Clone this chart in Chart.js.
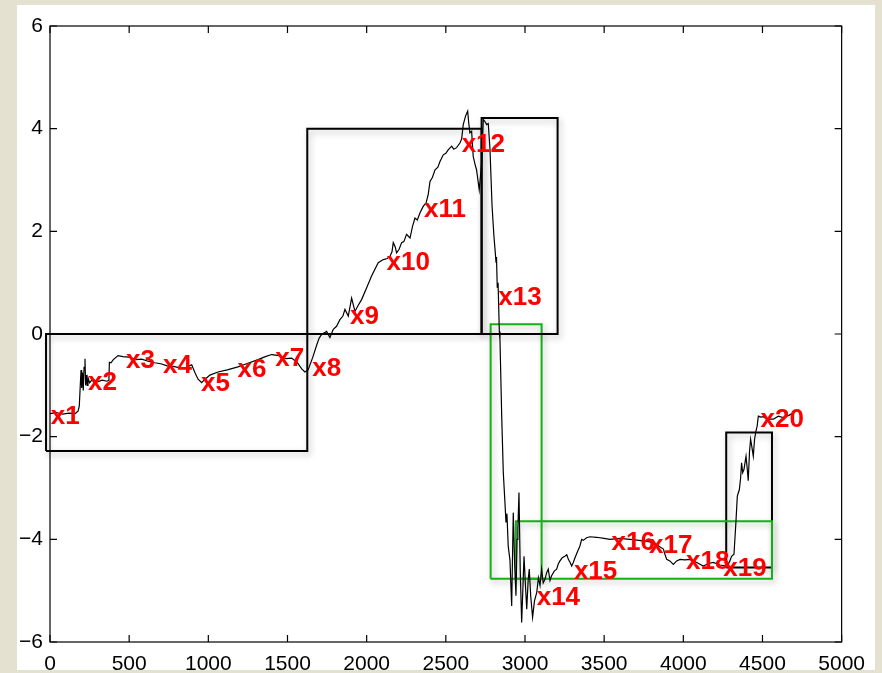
<!DOCTYPE html>
<html>
<head>
<meta charset="utf-8">
<script src="https://cdn.jsdelivr.net/npm/chart.js@4/dist/chart.umd.min.js"></script>
<style>
  html, body { margin: 0; padding: 0; background: #e4e1d1; }
  .panel { position: absolute; left: 17px; top: 5px; width: 858px; height: 665px; background: #fff; overflow: hidden; }
</style>
</head>
<body>
<div class="panel"><canvas id="plot"></canvas></div>
<script>
// traced signal
const seriesX = [
  0, 40, 80, 120, 160, 178, 185, 192, 196, 200, 205, 210, 215, 221, 225, 230, 235, 240, 250, 270,
  300, 330, 360, 372, 375, 385, 400, 430, 460, 500, 540, 580, 620, 660, 700, 740, 780, 820, 853, 880,
  895, 915, 935, 958, 980, 1010, 1061, 1120, 1187, 1250, 1314, 1360, 1400, 1450, 1490, 1526, 1560, 1590, 1610, 1630,
  1660, 1684, 1700, 1716, 1747, 1768, 1789, 1810, 1831, 1850, 1863, 1884, 1905, 1926, 1945, 1968, 2000, 2031, 2073, 2105,
  2130, 2147, 2160, 2168, 2180, 2189, 2205, 2221, 2235, 2252, 2274, 2290, 2305, 2320, 2337, 2358, 2375, 2389, 2400, 2415,
  2432, 2450, 2463, 2484, 2500, 2516, 2537, 2550, 2568, 2589, 2600, 2610, 2625, 2638, 2645, 2652, 2663, 2673, 2685, 2694,
  2711, 2718, 2726, 2732, 2737, 2747, 2758, 2768, 2779, 2792, 2804, 2812, 2817, 2820, 2825, 2830, 2838, 2842, 2853, 2863,
  2872, 2880, 2886, 2894, 2905, 2916, 2926, 2935, 2943, 2950, 2955, 2962, 2970, 2979, 2994, 3003, 3011, 3020, 3027, 3036,
  3048, 3060, 3074, 3085, 3095, 3105, 3115, 3126, 3137, 3147, 3158, 3168, 3185, 3200, 3210, 3221, 3235, 3252, 3264, 3274,
  3285, 3295, 3305, 3316, 3330, 3347, 3358, 3368, 3389, 3410, 3452, 3500, 3537, 3600, 3663, 3720, 3789, 3830, 3874, 3885,
  3895, 3915, 3937, 3958, 3979, 4010, 4042, 4085, 4126, 4160, 4189, 4230, 4274, 4290, 4305, 4320, 4332, 4341, 4354, 4362,
  4368, 4375, 4383, 4390, 4396, 4403, 4410, 4418, 4425, 4433, 4442, 4450, 4459, 4466, 4474, 4490, 4505, 4530, 4568, 4600,
  4631, 4670, 4700, 4716, 4730
];
const seriesY = [
  -1.55, -1.53, -1.56, -1.54, -1.55, -1.50, -1.40, -0.95, -0.70, -1.05, -0.75, -1.10, -0.65, -0.48, -1.00, -0.80, -1.00, -0.85, -0.95, -0.88,
  -0.93, -0.90, -0.92, -0.90, -0.55, -0.56, -0.50, -0.42, -0.44, -0.45, -0.50, -0.49, -0.53, -0.56, -0.58, -0.62, -0.63, -0.66, -0.67, -0.62,
  -0.60, -0.75, -0.88, -0.95, -0.88, -0.80, -0.74, -0.70, -0.64, -0.57, -0.50, -0.44, -0.40, -0.42, -0.48, -0.47, -0.55, -0.68, -0.74, -0.70,
  -0.45, -0.22, -0.08, -0.01, 0.05, -0.07, 0.09, 0.15, 0.28, 0.35, 0.48, 0.35, 0.70, 0.44, 0.55, 0.67, 0.90, 1.13, 1.39, 1.45,
  1.47, 1.51, 1.60, 1.78, 1.70, 1.58, 1.65, 1.78, 1.80, 1.94, 1.87, 2.10, 2.26, 2.22, 2.36, 2.49, 2.55, 2.72, 2.97, 3.05,
  3.20, 3.25, 3.36, 3.49, 3.52, 3.59, 3.66, 3.60, 3.63, 3.72, 3.80, 4.08, 4.25, 4.34, 4.10, 3.92, 3.95, 3.46, 3.30, 3.20,
  2.81, 3.05, 3.33, 3.80, 4.18, 4.14, 4.08, 4.10, 3.60, 2.50, 1.90, 1.60, 1.40, 1.50, 0.90, 1.00, 0.05, -0.11, -1.60, -2.70,
  -3.20, -3.67, -3.50, -4.13, -4.40, -5.30, -3.48, -4.50, -5.10, -4.00, -3.80, -3.09, -4.60, -5.62, -4.33, -4.90, -5.36, -4.80, -4.58, -5.10,
  -5.52, -5.20, -5.04, -4.75, -4.90, -4.58, -4.85, -4.78, -4.65, -4.58, -4.80, -4.71, -4.62, -4.58, -4.48, -4.42, -4.36, -4.33, -4.30, -4.39,
  -4.45, -4.52, -4.45, -4.36, -4.25, -4.13, -4.00, -4.02, -3.97, -3.95, -3.96, -3.98, -4.00, -3.98, -4.00, -4.02, -4.05, -4.10, -4.19, -4.30,
  -4.39, -4.42, -4.49, -4.42, -4.39, -4.40, -4.39, -4.45, -4.52, -4.47, -4.45, -4.50, -4.52, -4.45, -4.33, -4.29, -3.68, -3.16, -3.03, -2.80,
  -2.51, -2.70, -2.64, -2.50, -2.38, -2.60, -2.86, -2.30, -2.05, -2.20, -2.38, -2.05, -1.89, -1.80, -1.60, -1.62, -1.61, -1.66, -1.66, -1.60,
  -1.63, -1.58, -1.52, -1.50, -1.48
];

// segment boxes
const boxX0 = [-25, 1625, 2726, 2783, 2943, 4271];
const boxX1 = [1625, 2726, 3206, 3105, 4560, 4560];
const boxY0 = [-2.28, 0, 0, -4.77, -4.77, -4.55];
const boxY1 = [0, 4.0, 4.21, 0.19, -3.65, -1.92];
const boxColor = ['#000', '#000', '#000', '#14b014', '#14b014', '#000'];

// point labels
const labelText = ['x1', 'x2', 'x3', 'x4', 'x5', 'x6', 'x7', 'x8', 'x9', 'x10',
  'x11', 'x12', 'x13', 'x14', 'x15', 'x16', 'x17', 'x18', 'x19', 'x20'];
const labelX = [5, 240, 480, 714, 954, 1185, 1423, 1657, 1895, 2126,
  2362, 2600, 2831, 3074, 3309, 3547, 3783, 4017, 4252, 4488];
const labelY = [-1.57, -0.92, -0.48, -0.59, -0.94, -0.66, -0.44, -0.63, 0.38, 1.42,
  2.46, 3.73, 0.75, -5.10, -4.60, -4.02, -4.08, -4.39, -4.53, -1.63];

const xTicks = { min: 0, max: 5000, step: 500 };
const yTicks = { min: -6, max: 6, step: 2 };

const datasets = [{
  data: seriesX.map((x, i) => ({ x, y: seriesY[i] })),
  borderColor: '#000',
  borderWidth: 1.2,
  pointRadius: 0,
  tension: 0,
  order: 0
}];
boxX0.forEach((x0, i) => {
  const x1 = boxX1[i], y0 = boxY0[i], y1 = boxY1[i];
  datasets.push({
    data: [{ x: x0, y: y0 }, { x: x1, y: y0 }, { x: x1, y: y1 }, { x: x0, y: y1 }, { x: x0, y: y0 }],
    borderColor: boxColor[i],
    borderWidth: 2,
    pointRadius: 0,
    tension: 0,
    clip: false,
    order: 1
  });
});

const boxShadow = {
  id: 'boxShadow',
  beforeDatasetDraw(chart, args) {
    if (args.index === 0) return;
    const ctx = chart.ctx;
    ctx.save();
    ctx.shadowColor = 'rgba(0,0,0,0.28)';
    ctx.shadowBlur = 6;
    ctx.shadowOffsetX = 2;
    ctx.shadowOffsetY = 3;
  },
  afterDatasetDraw(chart, args) {
    if (args.index === 0) return;
    chart.ctx.restore();
  }
};

const frame = {
  id: 'frame',
  afterDatasetsDraw(chart) {
    const { ctx, chartArea: a, scales: { x, y } } = chart;
    ctx.save();
    ctx.strokeStyle = '#000';
    ctx.lineWidth = 1.2;
    ctx.strokeRect(a.left, a.top, a.width, a.height);
    ctx.beginPath();
    x.ticks.forEach(t => {
      const px = x.getPixelForValue(t.value);
      ctx.moveTo(px, a.bottom); ctx.lineTo(px, a.bottom - 7);
      ctx.moveTo(px, a.top); ctx.lineTo(px, a.top + 7);
    });
    y.ticks.forEach(t => {
      const py = y.getPixelForValue(t.value);
      ctx.moveTo(a.left, py); ctx.lineTo(a.left + 7, py);
      ctx.moveTo(a.right, py); ctx.lineTo(a.right - 7, py);
    });
    ctx.stroke();
    ctx.restore();
  }
};

const pointLabels = {
  id: 'pointLabels',
  afterDatasetsDraw(chart) {
    const { ctx, scales: { x, y } } = chart;
    ctx.save();
    ctx.fillStyle = '#ff0000';
    ctx.font = 'bold 26px "Liberation Sans", Arial, sans-serif';
    ctx.textAlign = 'left';
    ctx.textBaseline = 'middle';
    labelText.forEach((txt, i) => {
      ctx.fillText(txt, x.getPixelForValue(labelX[i]), y.getPixelForValue(labelY[i]) + 2);
    });
    ctx.restore();
  }
};

const tickFont = { family: '"Liberation Sans", Arial, sans-serif', size: 21 };

new Chart(document.getElementById('plot'), {
  type: 'line',
  data: { datasets },
  options: {
    responsive: true,
    maintainAspectRatio: false,
    animation: false,
    layout: { padding: { top: 21, right: 33, bottom: 0, left: 0 } },
    plugins: {
      legend: { display: false },
      title: { display: false },
      tooltip: { enabled: false }
    },
    scales: {
      x: {
        type: 'linear',
        min: xTicks.min,
        max: xTicks.max,
        grid: { display: false, drawTicks: false },
        border: { display: false },
        ticks: { stepSize: xTicks.step, padding: 10, color: '#000', font: tickFont, maxRotation: 0,
          callback: v => String(v) },
        afterFit: s => { s.height = 28; }
      },
      y: {
        min: yTicks.min,
        max: yTicks.max,
        grid: { display: false, drawTicks: false },
        border: { display: false },
        ticks: { stepSize: yTicks.step, padding: 7, color: '#000', font: tickFont,
          callback: v => String(v).replace('-', '\u2212') },
        afterFit: s => { s.width = 33; }
      }
    }
  },
  plugins: [boxShadow, frame, pointLabels]
});
</script>
</body>
</html>
